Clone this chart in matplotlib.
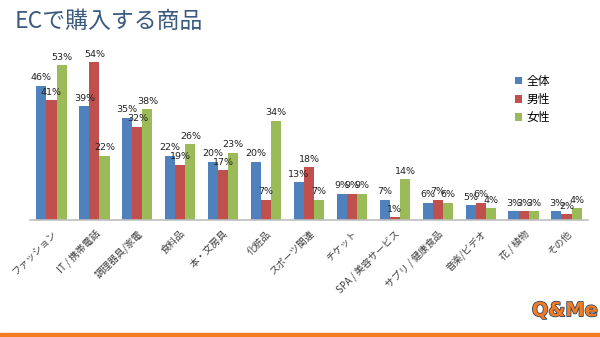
import numpy as np
import matplotlib
matplotlib.use("Agg")
import matplotlib.pyplot as plt
from matplotlib.patches import Rectangle
import matplotlib.patheffects as pe

plt.rcParams['font.family'] = ['Noto Sans CJK JP', 'DejaVu Sans']

# data (%)
categories = ['ファッション', 'IT / 携帯電話', '調理器具/家電', '食料品', '本・文房具', '化粧品',
              'スポーツ関連', 'チケット', 'SPA / 美容サービス', 'サプリ / 健康食品',
              '音楽/ビデオ', '花 / 植物', 'その他']
total = [46, 39, 35, 22, 20, 20, 13, 9, 7, 6, 5, 3, 3]
male = [41, 54, 32, 19, 17, 7, 18, 9, 1, 7, 6, 3, 2]
female = [53, 22, 38, 26, 23, 34, 7, 9, 14, 6, 4, 3, 4]
series_names = ['全体', '男性', '女性']
colors = ['#4F81BD', '#C0504D', '#9BBB59']

fig = plt.figure(figsize=(6, 3.37), dpi=100)
ax = fig.add_axes([0.05, 0.347, 0.93, 0.52])

x = np.arange(len(categories))
w = 0.235
for i, (vals, name, c) in enumerate(zip([total, male, female], series_names, colors)):
    pos = x + (i - 1) * w
    ax.bar(pos, vals, width=w, color=c, label=name)
    for px, v in zip(pos, vals):
        ax.text(px, v + 1.2, f'{v}%', ha='center', va='bottom', fontsize=6.8, color='#222222',
                family=['DejaVu Sans'])

ax.set_xlim(-0.5, len(categories) - 0.5)
ax.set_ylim(0, 60)
for s in ['top', 'right', 'left']:
    ax.spines[s].set_visible(False)
ax.spines['bottom'].set_color('#BFBFBF')
ax.spines['bottom'].set_linewidth(1.2)
ax.set_yticks([])
ax.set_xticks(x)
ax.set_xticklabels(categories, rotation=45, ha='right', rotation_mode='anchor',
                   fontsize=7, color='#404040')
ax.tick_params(axis='x', length=0, pad=6)

ax.legend(loc='upper left', bbox_to_anchor=(0.85, 0.89), frameon=False, fontsize=8.5,
          handlelength=0.6, handleheight=0.6, handletextpad=0.4, labelspacing=0.45)

fig.text(0.025, 0.935, 'ECで購入する商品', fontsize=16.5, color='#3B5A7F', ha='left', va='center')

# bottom orange strip and logo
fig.patches.append(Rectangle((0, 0), 1, 0.013, transform=fig.transFigure, color='#F47B20'))
fig.text(0.997, 0.05, 'Q&Me', fontsize=14, fontweight='bold', color='#F47B20', ha='right',
         va='bottom', family=['DejaVu Sans'],
         path_effects=[pe.withStroke(linewidth=1.2, foreground='#2E4A6B')])

fig.savefig('out.png', dpi=100)
